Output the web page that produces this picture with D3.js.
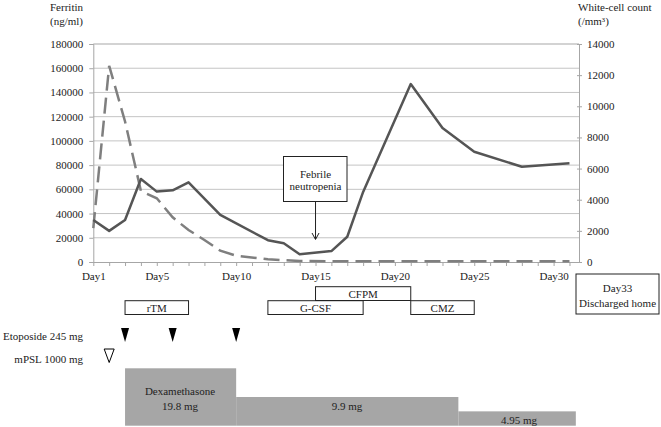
<!DOCTYPE html>
<html>
<head>
<meta charset="utf-8">
<script src="https://cdn.jsdelivr.net/npm/d3@7"></script>
<style>
  html, body { margin: 0; padding: 0; background: #fff; }
  svg text { font-family: "Liberation Serif", "Times New Roman", Times, "DejaVu Serif", serif !important; font-size: 11px; }
</style>
</head>
<body>
<div id="chart"></div>
<script>
// ---- data ----
const wbcDays = [1, 2, 3, 4, 5, 6, 7, 9, 12, 13, 14, 16, 17, 18, 21, 23, 25, 28, 31];
const wbcValues = [2700, 2000, 2700, 5330, 4520, 4600, 5120, 3020, 1400, 1200, 500, 700, 1620, 4500, 11430, 8600, 7080, 6120, 6340];

const ferritinDays = [1, 2, 3, 4, 5, 6, 7, 8, 9, 10, 12, 14, 16, 18, 20, 22, 24, 26, 28, 31];
const ferritinValues = [28000, 162000, 116000, 58600, 52600, 36900, 26400, 18200, 9300, 5200, 2200, 800, 600, 700, 700, 700, 700, 700, 700, 700];

const ferritinTicks = [0, 20000, 40000, 60000, 80000, 100000, 120000, 140000, 160000, 180000];
const wbcTicks = [0, 2000, 4000, 6000, 8000, 10000, 12000, 14000];
const dayLabels = [1, 5, 10, 15, 20, 25, 30];

// antibiotic / support therapies (lane 0 = upper, lane 1 = lower)
const therapies = [
  { name: 'rTM', start: 3, end: 7, lane: 1 },
  { name: 'G-CSF', start: 12, end: 18, lane: 1 },
  { name: 'CFPM', start: 15, end: 21, lane: 0 },
  { name: 'CMZ', start: 21, end: 25, lane: 1 }
];

const etoposideDays = [3, 6, 10];
const mpslDays = [2];

const dexaSteps = [
  { start: 3, end: 10, dose: 19.8 },
  { start: 10, end: 24, dose: 9.9 },
  { start: 24, end: 31.4, dose: 4.95 }
];

const febrileDay = 15;

// ---- layout ----
const W = 661, H = 427;
const plot = { left: 93.3, right: 579, top: 44, bottom: 262 };

const svg = d3.select('#chart').append('svg')
  .attr('width', W)
  .attr('height', H);

const x = d3.scaleLinear().domain([1, 31.6]).range([plot.left, plot.right]);
const yL = d3.scaleLinear().domain([0, 180000]).range([plot.bottom, plot.top]);
const yR = d3.scaleLinear().domain([0, 14000]).range([plot.bottom, plot.top]);

const textColor = '#222';
const gridColor = '#c4c4c4';
const axisColor = '#a6a6a6';

// Gridlines
svg.append('g')
  .selectAll('line')
  .data(ferritinTicks.filter(d => d > 0))
  .join('line')
  .attr('x1', plot.left)
  .attr('x2', plot.right)
  .attr('y1', d => yL(d))
  .attr('y2', d => yL(d))
  .attr('stroke', gridColor)
  .attr('stroke-width', d => d === 180000 ? 1.5 : 1);

// Left axis
const leftAxis = svg.append('g')
  .attr('transform', `translate(${plot.left},0)`)
  .call(d3.axisLeft(yL).tickValues(ferritinTicks).tickFormat(d3.format('d')).tickSize(4).tickPadding(6));
leftAxis.select('.domain').attr('stroke', axisColor);
leftAxis.selectAll('.tick line').attr('stroke', axisColor);
leftAxis.selectAll('text').attr('fill', textColor);

// Right axis
const rightAxis = svg.append('g')
  .attr('transform', `translate(${plot.right},0)`)
  .call(d3.axisRight(yR).tickValues(wbcTicks).tickFormat(d3.format('d')).tickSize(3).tickPadding(5));
rightAxis.select('.domain').attr('stroke', axisColor);
rightAxis.selectAll('.tick line').attr('stroke', axisColor).attr('x1', -2);
rightAxis.selectAll('text').attr('fill', textColor);

// Bottom axis: minor tick every day, labels every 5 days
const bottomAxis = svg.append('g')
  .attr('transform', `translate(0,${plot.bottom})`)
  .call(d3.axisBottom(x).tickValues(d3.range(1, 32)).tickSize(4).tickSizeOuter(0)
    .tickFormat(d => dayLabels.includes(d) ? 'Day' + d : ''));
bottomAxis.select('.domain').attr('stroke', axisColor);
bottomAxis.selectAll('.tick line').attr('stroke', axisColor);
bottomAxis.selectAll('text').attr('fill', textColor).attr('y', 10);

// Axis titles
const titles = svg.append('g').attr('fill', textColor);
titles.append('text').attr('x', 50).attr('y', 11).text('Ferritin');
titles.append('text').attr('x', 50).attr('y', 25).text('(ng/ml)');
titles.append('text').attr('x', 578).attr('y', 11).text('White-cell count');
titles.append('text').attr('x', 578).attr('y', 25).text('(/mm³)');

// Ferritin (dashed, left axis)
const ferritinData = ferritinDays.map((d, i) => ({ day: d, value: ferritinValues[i] }));
svg.append('path')
  .datum(ferritinData)
  .attr('fill', 'none')
  .attr('stroke', '#7f7f7f')
  .attr('stroke-width', 2.5)
  .attr('stroke-dasharray', '16,7')
  .attr('d', d3.line().x(d => x(d.day)).y(d => yL(d.value)));

// White-cell count (solid, right axis)
const wbcData = wbcDays.map((d, i) => ({ day: d, value: wbcValues[i] }));
svg.append('path')
  .datum(wbcData)
  .attr('fill', 'none')
  .attr('stroke', '#555')
  .attr('stroke-width', 2.5)
  .attr('stroke-linejoin', 'round')
  .attr('d', d3.line().x(d => x(d.day)).y(d => yR(d.value)));

// Febrile neutropenia callout
const fx = x(febrileDay);
svg.append('line')
  .attr('x1', fx).attr('x2', fx)
  .attr('y1', 201).attr('y2', 239)
  .attr('stroke', '#222').attr('stroke-width', 1);
svg.append('path')
  .attr('d', `M${fx - 3.5},${233} L${fx},${239.5} L${fx + 3.5},${233}`)
  .attr('fill', 'none').attr('stroke', '#222').attr('stroke-width', 1);
svg.append('rect')
  .attr('x', 283.5).attr('y', 156.5)
  .attr('width', 63.5).attr('height', 45)
  .attr('fill', '#fff').attr('stroke', '#222').attr('stroke-width', 1);
svg.append('text').attr('x', fx).attr('y', 178).attr('text-anchor', 'middle')
  .attr('fill', textColor).text('Febrile');
svg.append('text').attr('x', fx).attr('y', 190).attr('text-anchor', 'middle')
  .attr('fill', textColor).text('neutropenia');

// Therapy boxes
const laneTop = [286.7, 300.7];
const laneH = 13.8;
const tg = svg.append('g');
therapies.forEach(t => {
  tg.append('rect')
    .attr('x', x(t.start)).attr('y', laneTop[t.lane])
    .attr('width', x(t.end) - x(t.start)).attr('height', laneH)
    .attr('fill', t.lane === 0 ? 'none' : '#fff')
    .attr('stroke', '#222').attr('stroke-width', 1);
});
// labels after boxes so overlapping borders stay under text
therapies.forEach(t => {
  tg.append('text')
    .attr('x', (x(t.start) + x(t.end)) / 2)
    .attr('y', laneTop[t.lane] + laneH / 2 + 4)
    .attr('text-anchor', 'middle')
    .attr('fill', textColor)
    .text(t.name);
});

// Discharge box
svg.append('rect')
  .attr('x', 576).attr('y', 274)
  .attr('width', 83).attr('height', 40)
  .attr('fill', '#fff').attr('stroke', '#222').attr('stroke-width', 1);
svg.append('text').attr('x', 617.5).attr('y', 292).attr('text-anchor', 'middle')
  .attr('fill', textColor).text('Day33');
svg.append('text').attr('x', 617.5).attr('y', 306.5).attr('text-anchor', 'middle')
  .attr('fill', textColor).text('Discharged home');

// Etoposide (filled triangles)
svg.append('text').attr('x', 83).attr('y', 340).attr('text-anchor', 'end')
  .attr('fill', textColor).text('Etoposide 245 mg');
svg.append('g').selectAll('path')
  .data(etoposideDays)
  .join('path')
  .attr('d', d => `M${x(d) - 4},328 L${x(d) + 4},328 L${x(d)},342 Z`)
  .attr('fill', '#000');

// mPSL (open triangle)
svg.append('text').attr('x', 83).attr('y', 363).attr('text-anchor', 'end')
  .attr('fill', textColor).text('mPSL 1000 mg');
svg.append('g').selectAll('path')
  .data(mpslDays)
  .join('path')
  .attr('d', d => `M${x(d) - 5},349 L${x(d) + 5},349 L${x(d)},362.5 Z`)
  .attr('fill', '#fff')
  .attr('stroke', '#000')
  .attr('stroke-width', 1);

// Dexamethasone taper (step area)
const doseY = d3.scaleLinear().domain([0, 19.8]).range([425.7, 368.3]);
svg.append('g').selectAll('rect')
  .data(dexaSteps)
  .join('rect')
  .attr('x', d => x(d.start))
  .attr('y', d => doseY(d.dose))
  .attr('width', d => x(d.end) - x(d.start))
  .attr('height', d => doseY(0) - doseY(d.dose))
  .attr('fill', '#a6a6a6');

const dexLabels = svg.append('g').attr('fill', textColor).attr('text-anchor', 'middle');
dexLabels.append('text').attr('x', 180).attr('y', 395).text('Dexamethasone');
dexLabels.append('text').attr('x', 180).attr('y', 410).text(dexaSteps[0].dose + ' mg');
dexLabels.append('text').attr('x', 347).attr('y', 410).text(dexaSteps[1].dose + ' mg');
dexLabels.append('text').attr('x', 519).attr('y', 424).text(dexaSteps[2].dose + ' mg');
</script>
</body>
</html>
